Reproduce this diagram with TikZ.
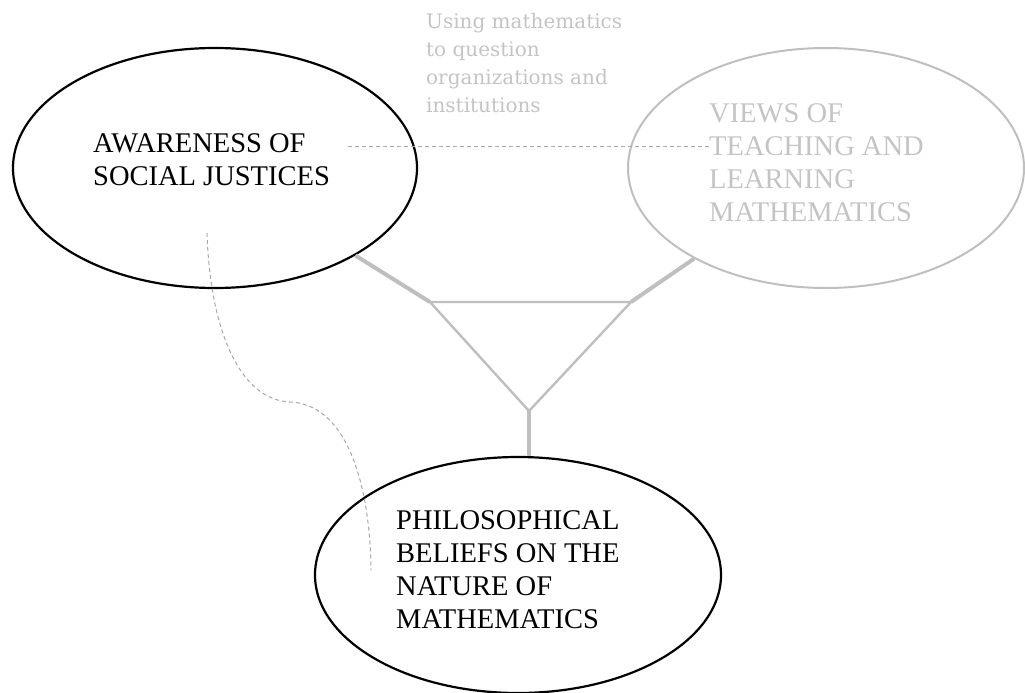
\documentclass[tikz,border=0pt]{standalone}
\usepackage{fontspec}
\setmainfont{Liberation Serif}
\newfontfamily\smallserif{DejaVu Serif}
\usetikzlibrary{shapes.geometric}
\definecolor{lightgray}{HTML}{BFBFBF}
\definecolor{textgray}{HTML}{C4C4C4}
\definecolor{dashgray}{HTML}{A8A8A8}
\tikzset{
  bigell/.style={ellipse, draw, inner sep=0pt, minimum width=404pt, minimum height=240pt},
  blackell/.style={bigell, draw=black, line width=2.2pt},
  grayell/.style={bigell, draw=lightgray, line width=2pt},
  bigtext/.style={anchor=north west, inner sep=0pt, align=left,
    font=\fontsize{28.5}{33}\selectfont},
  smalltext/.style={anchor=north west, inner sep=0pt, align=left, text=textgray,
    font=\smallserif\fontsize{20}{28}\selectfont},
  tri/.style={draw=lightgray, line width=2.4pt},
  arm/.style={draw=lightgray, line width=4pt},
  dashline/.style={draw=dashgray, line width=1pt, dash pattern=on 4pt off 3pt}
}
\begin{document}
\begin{tikzpicture}[x=1pt,y=-1pt]
\useasboundingbox (0,0) rectangle (1025,693);
% ellipses
\node[blackell] (aw) at (215,168) {};
\node[grayell, minimum width=396pt] (vw) at (826,168) {};
\node[blackell, minimum width=406pt, minimum height=236pt] (ph) at (518,575) {};
% texts
\node[bigtext] (awt) at (93,133) {AWARENESS OF\\SOCIAL JUSTICES};
\node[bigtext, text=textgray] (vwt) at (709,103) {VIEWS OF\\TEACHING AND\\LEARNING\\MATHEMATICS};
\node[bigtext] (pht) at (396,510) {PHILOSOPHICAL\\BELIEFS ON THE\\NATURE OF\\MATHEMATICS};
\node[smalltext] (qt) at (426,13) {Using mathematics\\to question\\organizations and\\institutions};
% triangle
\coordinate (tl) at (430,302);
\coordinate (tr) at (631,302);
\coordinate (tb) at (529,411);
\draw[tri] (tl) -- (tr) -- (tb) -- cycle;
\draw[arm] (aw) -- (tl);
\draw[arm] (vw) -- (tr);
\draw[arm] (tb) -- (tb |- ph.north);
% dashed lines
\coordinate (dl) at (348,146);
\draw[dashline] (dl) -- (dl -| vwt.west);
\coordinate (c1) at (207,233);
\coordinate (c2) at (290,402);
\coordinate (c3) at (371,570);
\draw[dashline] (c1) .. controls (210,330) and (240,400) .. (c2)
  .. controls (345,404) and (370,480) .. (c3);
\end{tikzpicture}
\end{document}
